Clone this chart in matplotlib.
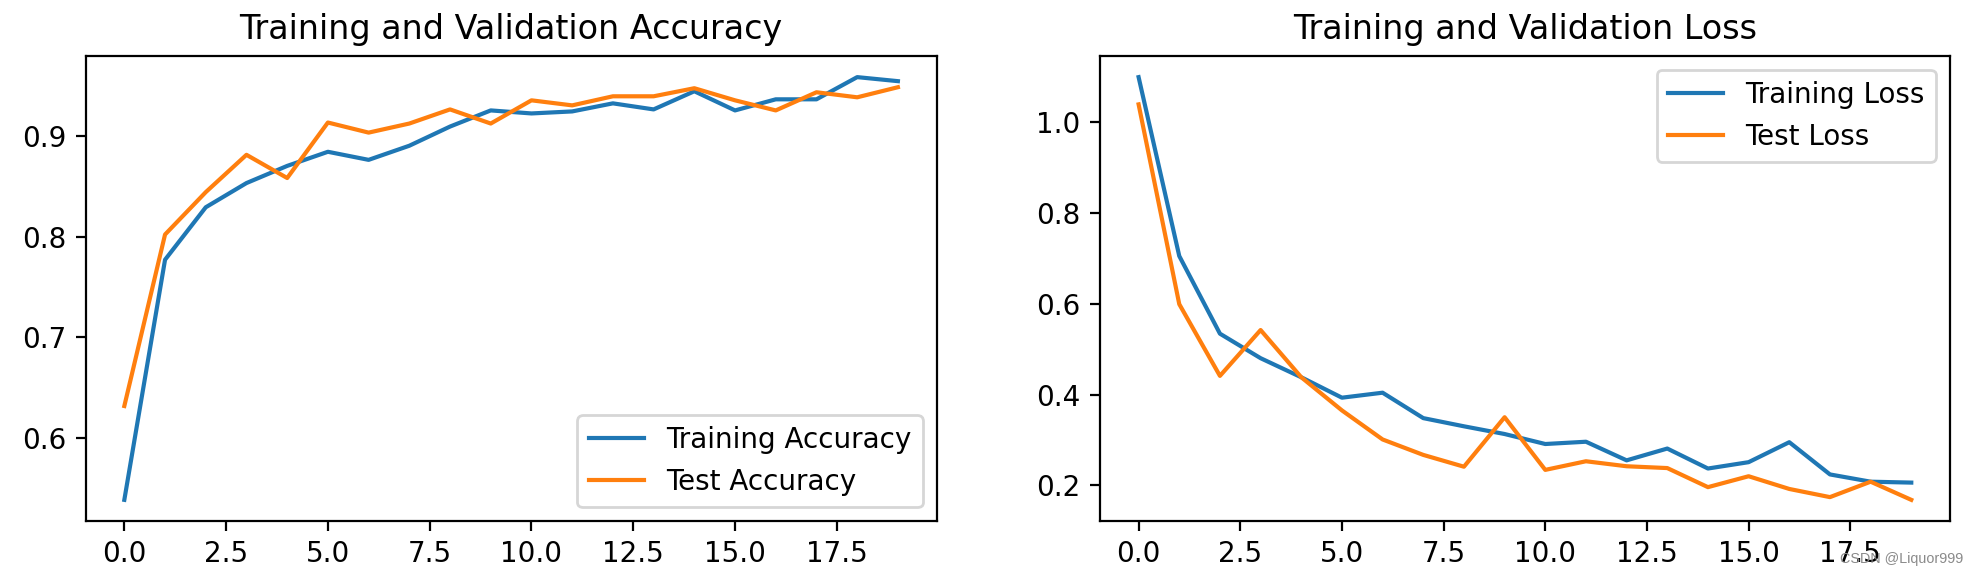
import matplotlib
matplotlib.use("Agg")
import matplotlib.pyplot as plt

epochs = list(range(20))
train_acc = [0.539, 0.777, 0.829, 0.853, 0.870, 0.884, 0.876, 0.890, 0.909, 0.925,
             0.922, 0.924, 0.932, 0.926, 0.944, 0.925, 0.936, 0.936, 0.958, 0.954]
test_acc = [0.632, 0.802, 0.844, 0.881, 0.858, 0.913, 0.903, 0.912, 0.926, 0.912,
            0.935, 0.930, 0.939, 0.939, 0.947, 0.935, 0.925, 0.943, 0.938, 0.948]
train_loss = [1.099, 0.705, 0.534, 0.480, 0.438, 0.393, 0.404, 0.348, 0.330, 0.313,
              0.291, 0.296, 0.255, 0.281, 0.237, 0.251, 0.295, 0.224, 0.208, 0.206]
test_loss = [1.039, 0.599, 0.441, 0.542, 0.438, 0.365, 0.301, 0.267, 0.241, 0.350,
             0.234, 0.253, 0.242, 0.238, 0.196, 0.220, 0.192, 0.174, 0.208, 0.168]

DPI = 200
fig = plt.figure(figsize=(1978 / DPI, 576 / DPI), dpi=DPI)

ax1 = fig.add_axes([0.0433, 0.0955, 0.4302, 0.8073])
ax1.plot(epochs, train_acc, label="Training Accuracy")
ax1.plot(epochs, test_acc, label="Test Accuracy")
ax1.legend(loc="lower right")
ax1.set_title("Training and Validation Accuracy")

ax2 = fig.add_axes([0.5561, 0.0955, 0.4297, 0.8073])
ax2.plot(epochs, train_loss, label="Training Loss")
ax2.plot(epochs, test_loss, label="Test Loss")
ax2.legend(loc="upper right")
ax2.set_title("Training and Validation Loss")

fig.text(0.9925, 0.022, "CSDN @Liquor999", ha="right", va="baseline",
         fontsize=5.2, color="#8a8a8a", family=["Liberation Sans", "DejaVu Sans"])

fig.savefig("out.png", dpi=DPI)
